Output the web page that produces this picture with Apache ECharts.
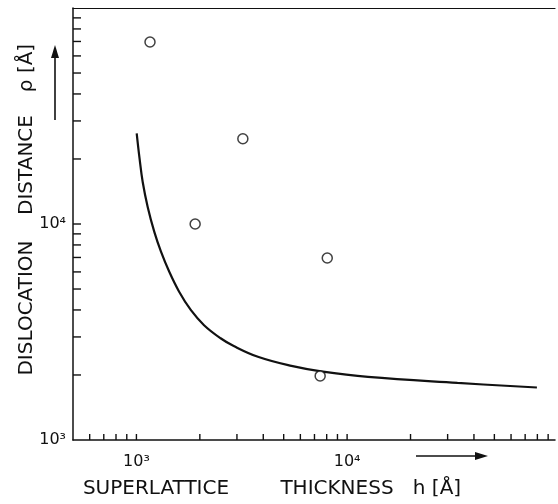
<!DOCTYPE html>
<html>
<head>
<meta charset="utf-8">
<script src="https://cdn.jsdelivr.net/npm/echarts@6/dist/echarts.min.js"></script>
<style>
  html, body { margin: 0; padding: 0; background: #fff; }
  #main { width: 558px; height: 504px; }
</style>
</head>
<body>
<div id="main"></div>
<script>
// measured dislocation distances (open circles)
var pointH = [1160, 1900, 3200, 8050, 7450];
var pointP = [69600, 10000, 24800, 6960, 1980];

// calculated curve
var curveH = [1003, 1033, 1071, 1131, 1216, 1308, 1432, 1595, 1811, 2094, 2509, 2897,
              3802, 5441, 7530, 12560, 33400, 79600];
var curveP = [26300, 20400, 15640, 12000, 9200, 7450, 6010, 4860, 4000, 3400, 2958, 2723,
              2421, 2203, 2078, 1958, 1837, 1750];

// axis ranges
var xRange = [500, 97000];
var yRange = [1000, 100000];

// tick marks and labels
var xTicks = [600, 700, 800, 900, 1000, 2000, 3000, 4000, 5000, 6000, 7000, 8000, 9000,
              10000, 20000, 30000, 40000, 50000, 60000, 70000, 80000, 90000];
var yTicks = [2000, 3000, 4000, 5000, 6000, 7000, 8000, 9000, 10000,
              20000, 30000, 40000, 50000, 60000, 70000, 80000, 90000];
var labelValues = [1000, 10000];
var labelTexts = ['10\u00b3', '10\u2074'];

var ink = '#111';
var font = '"DejaVu Sans", sans-serif';

function powLabel(v) {
  for (var i = 0; i < labelValues.length; i++) {
    if (Math.abs(Math.log10(v) - Math.log10(labelValues[i])) < 1e-6) return labelTexts[i];
  }
  return '';
}

function tickItem(dir, len) {
  return function (params, api) {
    var p = api.coord([api.value(0), api.value(1)]);
    return {
      type: 'line',
      shape: {
        x1: p[0], y1: p[1],
        x2: dir === 'x' ? p[0] : p[0] + len,
        y2: dir === 'x' ? p[1] - len : p[1]
      },
      style: { stroke: ink, lineWidth: 1.4 }
    };
  };
}

var chart = echarts.init(document.getElementById('main'));
var option = {
  animation: false,
  backgroundColor: '#fff',
  grid: { left: 73, right: 0, top: 8, bottom: 64 },
  xAxis: [{
    type: 'log',
    min: xRange[0],
    max: xRange[1],
    axisLine: { show: true, onZero: false, lineStyle: { color: ink, width: 1.5 } },
    axisTick: { show: false },
    splitLine: { show: false },
    axisLabel: { formatter: powLabel, color: ink, fontSize: 16, fontFamily: font, margin: 14 }
  }, {
    type: 'log',
    position: 'top',
    min: xRange[0],
    max: xRange[1],
    axisLine: { show: true, onZero: false, lineStyle: { color: ink, width: 1.2 } },
    axisTick: { show: false },
    axisLabel: { show: false },
    splitLine: { show: false }
  }],
  yAxis: {
    type: 'log',
    min: yRange[0],
    max: yRange[1],
    axisLine: { show: true, onZero: false, lineStyle: { color: ink, width: 1.5 } },
    axisTick: { show: false },
    splitLine: { show: false },
    axisLabel: { formatter: powLabel, color: ink, fontSize: 16, fontFamily: font, margin: 7 }
  },
  series: [{
    type: 'custom',
    renderItem: tickItem('x', 6),
    data: xTicks.map(function (v) { return [v, yRange[0]]; }),
    silent: true
  }, {
    type: 'custom',
    renderItem: tickItem('y', 8),
    data: yTicks.map(function (v) { return [xRange[0], v]; }),
    silent: true
  }, {
    type: 'line',
    data: curveH.map(function (h, i) { return [h, curveP[i]]; }),
    smooth: 0.4,
    showSymbol: false,
    lineStyle: { color: ink, width: 2.2 }
  }, {
    type: 'scatter',
    data: pointH.map(function (h, i) { return [h, pointP[i]]; }),
    symbol: 'circle',
    symbolSize: 10,
    itemStyle: { color: '#fff', borderColor: ink, borderWidth: 1.5 },
    z: 5
  }],
  graphic: [
    { type: 'text', x: 156, y: 489, style: { text: 'SUPERLATTICE', font: '20px ' + font, fill: ink, align: 'center', verticalAlign: 'middle' } },
    { type: 'text', x: 337, y: 489, style: { text: 'THICKNESS', font: '20px ' + font, fill: ink, align: 'center', verticalAlign: 'middle' } },
    { type: 'text', x: 437, y: 489, style: { text: 'h [\u00c5]', font: '20px ' + font, fill: ink, align: 'center', verticalAlign: 'middle' } },
    { type: 'text', x: 27, y: 308, rotation: Math.PI / 2, style: { text: 'DISLOCATION', font: '20px ' + font, fill: ink, align: 'center', verticalAlign: 'middle' } },
    { type: 'text', x: 27, y: 165, rotation: Math.PI / 2, style: { text: 'DISTANCE', font: '20px ' + font, fill: ink, align: 'center', verticalAlign: 'middle' } },
    { type: 'text', x: 27, y: 68, rotation: Math.PI / 2, style: { text: '\u03c1 [\u00c5]', font: '20px ' + font, fill: ink, align: 'center', verticalAlign: 'middle' } },
    { type: 'line', shape: { x1: 416, y1: 456, x2: 477, y2: 456 }, style: { stroke: ink, lineWidth: 1.6 } },
    { type: 'polygon', shape: { points: [[488, 456], [475, 452], [475, 460]] }, style: { fill: ink } },
    { type: 'line', shape: { x1: 55, y1: 120, x2: 55, y2: 57 }, style: { stroke: ink, lineWidth: 1.6 } },
    { type: 'polygon', shape: { points: [[55, 45], [51, 58], [59, 58]] }, style: { fill: ink } }
  ]
};
chart.setOption(option);
</script>
</body>
</html>
